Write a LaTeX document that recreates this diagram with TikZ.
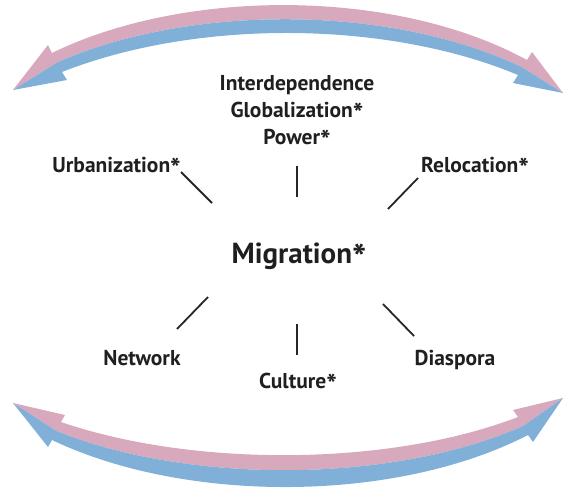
\documentclass[tikz,border=0pt]{standalone}
\usepackage{fontspec}
\setmainfont{PT Sans}
\usetikzlibrary{positioning}
\definecolor{bandpink}{RGB}{216,168,188}
\definecolor{bandblue}{RGB}{128,176,216}
\newcommand{\starmark}{\raisebox{-0.3em}[0.68em][0pt]{\scalebox{1.3}{*}}}

\begin{document}
\begin{tikzpicture}[x=1pt,y=-1pt,
  lbl/.style={inner sep=0pt,font=\fontsize{21.5}{26}\selectfont\bfseries,text=black!88},
  spoke/.style={line width=1.8pt,black!85}]
  \useasboundingbox (0,0) rectangle (565,490);
  % upper double arrow
  \fill[bandpink] (52,53) .. controls (185,-12) and (395,-12) .. (527,60) -- (532,52) -- (563,93) -- (522.5,67.5) .. controls (390,4) and (190,4) .. (57,62.5) -- (13,90) -- (48,45) -- cycle;
  \fill[bandblue] (57,62.5) .. controls (190,4) and (390,4) .. (522.5,67.5) -- (563,93) -- (513,83) -- (518,75) .. controls (385,19.5) and (195,19.5) .. (62,72) -- (67,80) -- (13,90) -- cycle;
  % lower double arrow
  \fill[bandpink] (61,422) .. controls (192,467) and (388,467) .. (518,417) -- (513,410) -- (563,398) -- (523,426) .. controls (392,484) and (188,484) .. (56.5,431) -- (13,403) -- (65,415) -- cycle;
  \fill[bandblue] (56.5,431) .. controls (188,484) and (392,484) .. (523,426) -- (563,398) -- (533,442) -- (528,435) .. controls (395,503.5) and (185,503.5) .. (52,440) -- (48,447) -- (13,403) -- cycle;

  \node[lbl,font=\fontsize{29}{30}\selectfont\bfseries,anchor=base] (mig) at (299,263) {Migration\starmark};
  \node[lbl,anchor=base] (inter) at (297,90) {Interdependence};
  \node[lbl,below=27pt of inter.base,anchor=base] (glob) {Globalization\starmark};
  \node[lbl,below=27pt of glob.base,anchor=base] (pow) {Power\starmark};
  \node[lbl,anchor=base east] (urb) at (181,172) {Urbanization\starmark};
  \node[lbl,anchor=base west] (reloc) at (421,172) {Relocation\starmark};
  \node[lbl,anchor=base] (net) at (142,365) {Network};
  \node[lbl,anchor=base] (dia) at (455,365) {Diaspora};
  \node[lbl,anchor=base] (cult) at (298,388) {Culture\starmark};

  \coordinate (u1) at (181,172); \coordinate (u2) at (212,203);
  \coordinate (t1) at (297,166); \coordinate (t2) at (297,197);
  \coordinate (r1) at (418,178); \coordinate (r2) at (388,209);
  \coordinate (n1) at (208,297); \coordinate (n2) at (177,329);
  \coordinate (c1) at (297,324); \coordinate (c2) at (297,355);
  \coordinate (d1) at (383,304); \coordinate (d2) at (414,336);
  \draw[spoke] (u1) -- (u2);
  \draw[spoke] (t1) -- (t2);
  \draw[spoke] (r1) -- (r2);
  \draw[spoke] (n1) -- (n2);
  \draw[spoke] (c1) -- (c2);
  \draw[spoke] (d1) -- (d2);
\end{tikzpicture}
\end{document}
